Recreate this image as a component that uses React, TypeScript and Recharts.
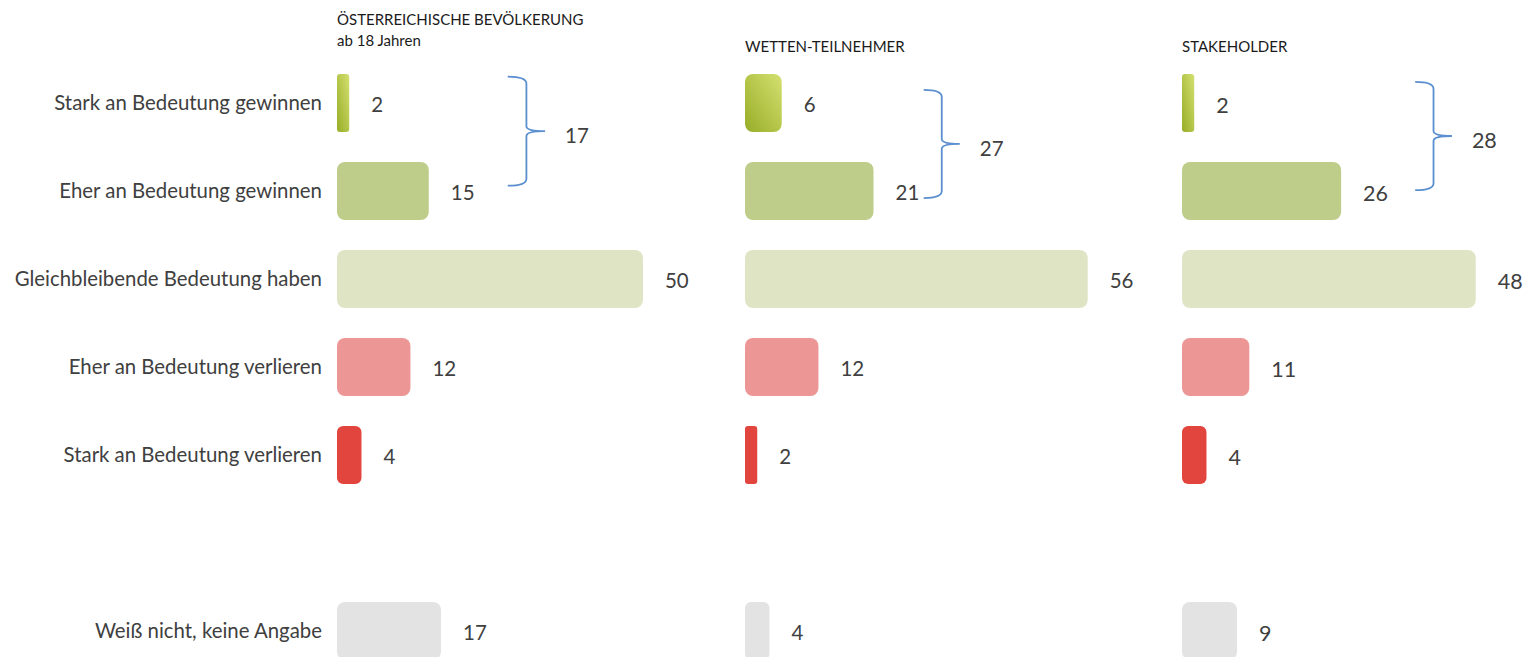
import React from 'react';
import { BarChart, Bar, XAxis, YAxis, Cell, LabelList, ReferenceArea, Rectangle } from 'recharts';

const categories = [
  'Stark an Bedeutung gewinnen',
  'Eher an Bedeutung gewinnen',
  'Gleichbleibende Bedeutung haben',
  'Eher an Bedeutung verlieren',
  'Stark an Bedeutung verlieren',
  '',
  'Weiß nicht, keine Angabe',
];
const bevoelkerung = [2, 15, 50, 12, 4, null, 17];
const wettenTeilnehmer = [6, 21, 56, 12, 2, null, 4];
const stakeholder = [2, 26, 48, 11, 4, null, 9];
const panelTitles = [
  ['ÖSTERREICHISCHE BEVÖLKERUNG', 'ab 18 Jahren'],
  ['WETTEN-TEILNEHMER'],
  ['STAKEHOLDER'],
];
const barColors = ['url(#gradTop)', '#bfcd8b', '#dfe5c4', '#ec9795', '#e2453d', '#ffffff', '#e3e3e3'];

const PX_PER_UNIT = 6.12;
const TOP = 59;
const BAND = 88;
const FONT = 'Lato, "Open Sans", sans-serif';
const TEXT = '#404040';

const panels = [
  { values: bevoelkerung, left: 0, yAxisWidth: 337, max: 60, labelSize: 20.5, brace: { x1: 27.9, x2: 34, top: -0.3, bottom: -0.06 }, titleLeft: 337, titleTop: 9 },
  { values: wettenTeilnehmer, left: 745, yAxisWidth: 0, max: 68, labelSize: 20.5, brace: { x1: 29.2, x2: 35.1, top: -0.15, bottom: 0.08 }, titleLeft: 745, titleTop: 36 },
  { values: stakeholder, left: 1182, yAxisWidth: 0, max: 57, labelSize: 21.5, brace: { x1: 38.1, x2: 44.1, top: -0.24, bottom: -0.01 }, titleLeft: 1182, titleTop: 36 },
];

const RoundedBar = (p: any) => {
  if (!p.width || p.width <= 0) return null;
  return <Rectangle x={p.x} y={p.y} width={p.width} height={p.height} fill={p.fill} radius={Math.min(8, p.width / 4)} />;
};

const makeBrace = (cfg: any, total: number, size: number) => (p: any) => {
  const { x, y, width, height } = p;
  if (x == null || y == null) return null;
  const band = height / 2;
  const yT = y + band / 2 + cfg.top * band;
  const yB = y + band * 1.5 + cfg.bottom * band;
  const yM = (yT + yB) / 2;
  const x0 = x;
  const xt = x + width;
  const xv = x + width * 0.5;
  const r = 7;
  const d = `M${x0},${yT} Q${xv},${yT} ${xv},${yT + r} L${xv},${yM - 5} Q${xv},${yM} ${xt},${yM} Q${xv},${yM} ${xv},${yM + 5} L${xv},${yB - r} Q${xv},${yB} ${x0},${yB}`;
  return (
    <g>
      <path d={d} fill="none" stroke="#5b8fcf" strokeWidth={1.8} />
      <text x={xt + 20} y={yM + 4} dominantBaseline="central" fill={TEXT} fontSize={size} fontFamily={FONT}>
        {total}
      </text>
    </g>
  );
};

export default function App() {
  return (
    <div style={{ position: 'absolute', left: 0, top: 0, width: 1536, height: 700, background: '#fff', fontFamily: FONT }}>
      <svg width={0} height={0} style={{ position: 'absolute' }}>
        <defs>
          <linearGradient id="gradTop" x1="0" y1="1" x2="1" y2="0">
            <stop offset="0%" stopColor="#97ad27" />
            <stop offset="100%" stopColor="#d4e070" />
          </linearGradient>
        </defs>
      </svg>
      {panels.map((panel, pi) => {
        const data = categories.map((name, i) => ({ name, value: panel.values[i] }));
        const total = (panel.values[0] as number) + (panel.values[1] as number);
        const width = panel.yAxisWidth + panel.max * PX_PER_UNIT;
        return (
          <React.Fragment key={pi}>
            <div
              style={{
                position: 'absolute',
                left: panel.titleLeft,
                top: panel.titleTop,
                fontSize: 15,
                lineHeight: '21px',
                color: '#1a1a1a',
                whiteSpace: 'nowrap',
              }}
            >
              {panelTitles[pi].map((t, ti) => (
                <div key={ti}>{t}</div>
              ))}
            </div>
            <div style={{ position: 'absolute', left: panel.left, top: 0 }}>
              <BarChart
                width={width}
                height={TOP + categories.length * BAND}
                data={data}
                layout="vertical"
                margin={{ top: TOP, right: 0, bottom: 0, left: 0 }}
                barCategoryGap={0}
                style={{ overflow: 'visible' }}
              >
                <XAxis type="number" hide domain={[0, panel.max]} />
                <YAxis
                  type="category"
                  dataKey="name"
                  hide={panel.yAxisWidth === 0}
                  width={panel.yAxisWidth}
                  axisLine={false}
                  tickLine={false}
                  tickSize={0}
                  tickMargin={15}
                  interval={0}
                  tick={{ fill: TEXT, fontSize: 20.4, fontFamily: FONT }}
                />
                <ReferenceArea
                  x1={panel.brace.x1}
                  x2={panel.brace.x2}
                  y1={categories[0]}
                  y2={categories[1]}
                  ifOverflow="visible"
                  shape={makeBrace(panel.brace, total, panel.labelSize)}
                />
                <Bar dataKey="value" barSize={58} isAnimationActive={false} shape={RoundedBar}>
                  {data.map((d, i) => (
                    <Cell key={i} fill={barColors[i]} />
                  ))}
                  <LabelList
                    dataKey="value"
                    position="right"
                    offset={22}
                    formatter={(v: any) => (v == null ? '' : v)}
                    style={{ fill: TEXT, fontSize: panel.labelSize, fontFamily: FONT }}
                    dy={2}
                  />
                </Bar>
              </BarChart>
            </div>
          </React.Fragment>
        );
      })}
    </div>
  );
}
